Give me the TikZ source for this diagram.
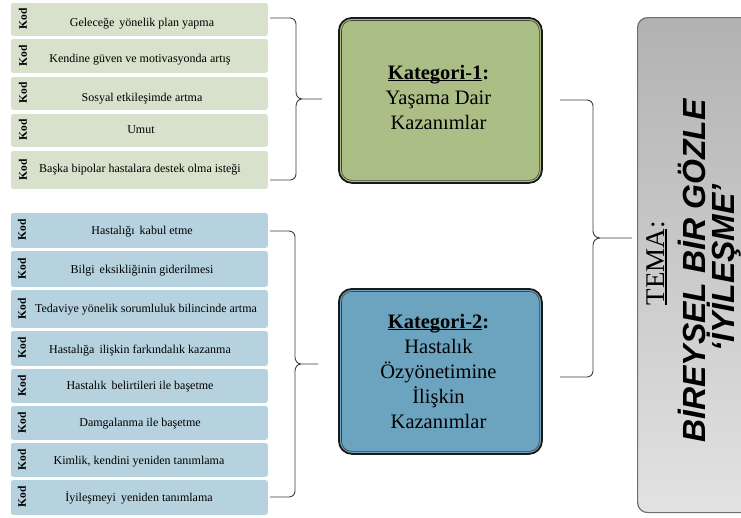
\documentclass[tikz,border=0pt]{standalone}
\usepackage{fontspec}
\setmainfont{Liberation Serif}
\setsansfont{Liberation Sans}
\newcommand{\ulx}[1]{\leavevmode\setbox0\hbox{#1}\rlap{\rule[-0.11em]{\wd0}{0.055em}}\box0}
\definecolor{greenrow}{RGB}{216,225,203}
\definecolor{bluerow}{RGB}{183,210,223}
\definecolor{katgreen}{RGB}{170,190,134}
\definecolor{katblue}{RGB}{108,163,190}
\definecolor{themetop}{RGB}{178,178,178}
\definecolor{themebot}{RGB}{226,226,226}
\definecolor{themeborder}{RGB}{110,110,110}
\definecolor{braceclr}{RGB}{60,60,60}
\begin{document}
\begin{tikzpicture}[x=1pt,y=-1pt,
  rowbox/.style={draw=white, line width=0.8pt, rounded corners=3pt, minimum width=258pt, anchor=north west, inner sep=0pt},
  greenbox/.style={rowbox, fill=greenrow},
  bluebox/.style={rowbox, fill=bluerow},
  kodlbl/.style={rotate=90, font=\fontsize{11.5}{12}\selectfont\bfseries, inner sep=0pt},
  rowtxt/.style={font=\fontsize{12}{13}\selectfont, inner sep=0pt},
  brace/.style={draw=braceclr, line width=0.9pt},
  katbox/.style={draw=black!90, line width=1.8pt, rounded corners=13pt, minimum width=203pt, minimum height=165pt, anchor=north west},
  katinner/.style={draw=black!75, line width=0.6pt, rounded corners=10pt},
  kattxt/.style={align=center, font=\fontsize{20.5}{25}\selectfont, inner sep=0pt},
  temabox/.style={draw=themeborder, line width=1.2pt, rounded corners=10pt, top color=themetop, bottom color=themebot, minimum width=120pt, minimum height=495pt, anchor=north west},
  tematxt/.style={rotate=90, anchor=base, inner sep=0pt, font=\fontsize{32}{34}\selectfont\sffamily\bfseries\itshape},
]
\useasboundingbox (0,0) rectangle (741,517);

% green rows
\node[greenbox, minimum height=34pt] (g1) at (10,2) {};
\node[greenbox, minimum height=35pt] (g2) at (10,38) {};
\node[greenbox, minimum height=34pt] (g3) at (10,76) {};
\node[greenbox, minimum height=34pt] (g4) at (10,113) {};
\node[greenbox, minimum height=39pt] (g5) at (10,150) {};
\node[kodlbl] (g1k) at (23,19) {Kod};
\node[kodlbl] (g2k) at (23,55.5) {Kod};
\node[kodlbl] (g3k) at (23,93) {Kod};
\node[kodlbl] (g4k) at (23,130) {Kod};
\node[kodlbl] (g5k) at (23,169.5) {Kod};
\node[rowtxt] (g1t) at (142,24) {Geleceğe\, yönelik plan yapma};
\node[rowtxt] (g2t) at (140,60) {Kendine güven ve motivasyonda artış};
\node[rowtxt] (g3t) at (142,99) {Sosyal etkileşimde artma};
\node[rowtxt] (g4t) at (141,130) {Umut};
\node[rowtxt] (g5t) at (140,170) {Başka bipolar hastalara destek olma isteği};

% blue rows
\node[bluebox, minimum height=36pt] (b1) at (10,212) {};
\node[bluebox, minimum height=37pt] (b2) at (10,250) {};
\node[bluebox, minimum height=39pt] (b3) at (10,289) {};
\node[bluebox, minimum height=36pt] (b4) at (10,330) {};
\node[bluebox, minimum height=35pt] (b5) at (10,368) {};
\node[bluebox, minimum height=35pt] (b6) at (10,405) {};
\node[bluebox, minimum height=35pt] (b7) at (10,442) {};
\node[bluebox, minimum height=36pt] (b8) at (10,479) {};
\node[kodlbl] (b1k) at (22,230) {Kod};
\node[kodlbl] (b2k) at (22,268.5) {Kod};
\node[kodlbl] (b3k) at (22,308.5) {Kod};
\node[kodlbl] (b4k) at (22,348) {Kod};
\node[kodlbl] (b5k) at (22,385.5) {Kod};
\node[kodlbl] (b6k) at (22,422.5) {Kod};
\node[kodlbl] (b7k) at (22,459.5) {Kod};
\node[kodlbl] (b8k) at (22,497) {Kod};
\node[rowtxt] (b1t) at (142,232) {Hastalığı\, kabul etme};
\node[rowtxt] (b2t) at (142,271) {Bilgi\, eksikliğinin giderilmesi};
\node[rowtxt] (b3t) at (146,310) {Tedaviye yönelik sorumluluk bilincinde artma};
\node[rowtxt] (b4t) at (140,351) {Hastalığa\, ilişkin farkındalık kazanma};
\node[rowtxt] (b5t) at (140,387) {Hastalık\, belirtileri ile başetme};
\node[rowtxt] (b6t) at (140,424) {Damgalanma ile başetme};
\node[rowtxt] (b7t) at (139,462) {Kimlik, kendini yeniden tanımlama};
\node[rowtxt] (b8t) at (139,498) {İyileşmeyi\, yeniden tanımlama};

% braces
\coordinate (br1top) at (270,18);
\coordinate (br1tip) at (322,99);
\coordinate (br1bot) at (270,180);
\draw[brace] (br1top) -- (290,18) to[out=0,in=90] (296,24) -- (296,92)
  to[out=-90,in=180] (302,99) -- (br1tip) -- (302,99)
  to[out=180,in=90] (296,106) -- (296,174) to[out=-90,in=0] (290,180) -- (br1bot);

\coordinate (br2top) at (270,231);
\coordinate (br2tip) at (318,364);
\coordinate (br2bot) at (270,497);
\draw[brace] (br2top) -- (289,231) to[out=0,in=90] (295,237) -- (295,357)
  to[out=-90,in=180] (301,364) -- (br2tip) -- (301,364)
  to[out=180,in=90] (295,371) -- (295,491) to[out=-90,in=0] (289,497) -- (br2bot);

\coordinate (br3top) at (560,100);
\coordinate (br3tip) at (632,238);
\coordinate (br3bot) at (560,377);
\draw[brace] (br3top) -- (587,100) to[out=0,in=90] (593,106) -- (593,231)
  to[out=-90,in=180] (600,238) -- (br3tip) -- (600,238)
  to[out=180,in=90] (593,245) -- (593,371) to[out=-90,in=0] (587,377) -- (br3bot);

% category boxes
\node[katbox, fill=katgreen] (k1) at (338,17) {};
\draw[katinner] ([xshift=3.5pt,yshift=-3.5pt]k1.north west) rectangle ([xshift=-3.5pt,yshift=3.5pt]k1.south east);
\node[kattxt] (k1t) at (438.5,97) {\textbf{\ulx{Kategori-1}:}\\Yaşama Dair\\Kazanımlar};

\node[katbox, fill=katblue] (k2) at (338,288) {};
\draw[katinner] ([xshift=3.5pt,yshift=-3.5pt]k2.north west) rectangle ([xshift=-3.5pt,yshift=3.5pt]k2.south east);
\node[kattxt] (k2t) at (438.5,371) {\textbf{\ulx{Kategori-2}:}\\Hastalık\\Özyönetimine\\İlişkin\\Kazanımlar};

% theme box
\node[temabox] (tema) at (637,17) {};
\node[rotate=90, anchor=base, inner sep=0pt, font=\fontsize{27}{30}\selectfont] (tema1) at (664,263) {\ulx{TEMA}:};
\node[tematxt] (tema2) at (705,271) {BİREYSEL BİR GÖZLE};
\node[tematxt] (tema3) at (734,268) {‘İYİLEŞME’};
\end{tikzpicture}
\end{document}
